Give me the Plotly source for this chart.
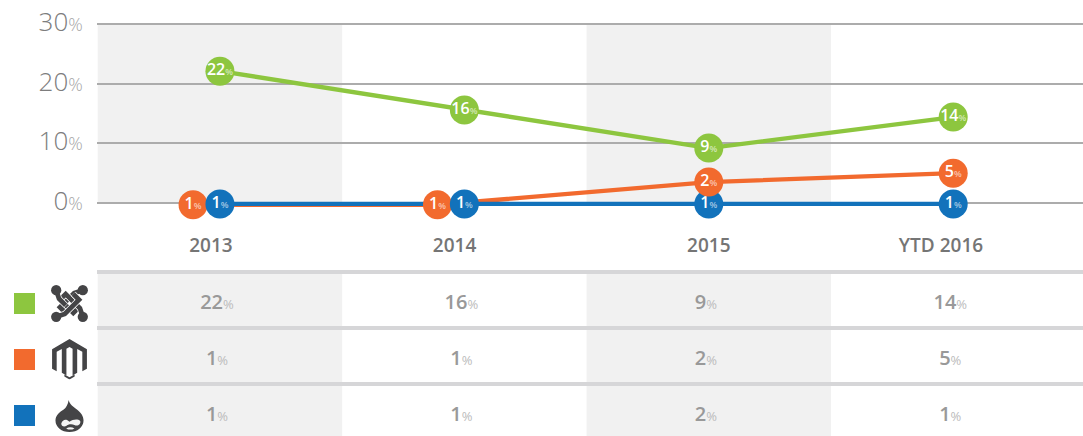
import base64
import plotly.graph_objects as go

# ---- data ----
categories = ["2013", "2014", "2015", "YTD 2016"]
joomla_line = [22.1, 15.6, 9.2, 14.4]
magento_line = [-0.3, -0.3, 3.5, 5.0]
drupal_line = [-0.15, -0.15, -0.15, -0.15]
joomla_labels = [22, 16, 9, 14]
magento_labels = [1, 1, 2, 5]
drupal_labels = [1, 1, 1, 1]
table_joomla = [22, 16, 9, 14]
table_magento = [1, 1, 2, 5]
table_drupal = [1, 1, 2, 1]
y_ticks = [0, 10, 20, 30]

# ---- style ----
GREEN, ORANGE, BLUE = "#8dc63f", "#f26a2e", "#1272bb"
BAND = "#f1f1f1"
GRID = "#acacac"
SEP = "#d6d6d8"
DODGE = 0.11
LABEL_SHIFT = [-0.037, -0.04, 0.0, -0.05]
CELL_SHIFT = -0.012
H = 436
FONT = "Open Sans"


def mark_text(v):
    return f"{v}<span style='font-size:9px;fill-opacity:0.6'>%</span>"


def cell_text(v):
    return f"{v}<span style='font-size:13px;fill:#bbbbbb;font-weight:400'>%</span>"


def svg_uri(body, view="0 0 40 40"):
    svg = f"<svg xmlns='http://www.w3.org/2000/svg' viewBox='{view}'>{body}</svg>"
    return "data:image/svg+xml;base64," + base64.b64encode(svg.encode()).decode()


DARK = "#444446"


def band_path(pts):
    d = "M" + " L".join(f"{x} {y}" for x, y in pts)
    return (f"<path d='{d}' fill='none' stroke='#ffffff' stroke-width='6.6'/>"
            f"<path d='{d}' fill='none' stroke='{DARK}' stroke-width='5'/>")


arm = [(6, 6), (9, 15), (24, 30), (30, 24)]
first_part = [(6, 6), (9, 15), (16, 22)]
joomla_body = ""
for _ in range(4):
    joomla_body += band_path(arm)
    arm = [(40 - y, x) for x, y in arm]
joomla_body += band_path(first_part)
joomla_svg = svg_uri(
    joomla_body
    + f"<g fill='{DARK}'><circle cx='6' cy='6' r='5.4'/><circle cx='34' cy='6' r='5.4'/>"
    "<circle cx='6' cy='34' r='5.4'/><circle cx='34' cy='34' r='5.4'/></g>"
)
magento_svg = svg_uri(
    f"<path fill='{DARK}' d='M20 0.5 L37 10.5 L37 29.5 L32.5 32 L32.5 13 L27.5 10.2 L27.5 33.5 L23 36 L23 10 L20 8.3 L17 10 "
    "L17 36 L12.5 33.5 L12.5 10.2 L7.5 13 L7.5 32 L3 29.5 L3 10.5 Z'/>"
    f"<path fill='{DARK}' d='M15 35 L20 37.8 L25 35 L25 37 L20 40 L15 37 Z'/>"
)
drupal_svg = svg_uri(
    f"<path fill='{DARK}' d='M19 0.5 C20 6 25 9 29 12 C34 16 37 20 37 25.5 C37 33.5 29.5 39.5 20 39.5 C10.5 39.5 3 33.5 3 25.5 "
    "C3 19 8 15 13 12 C16 10 18 6 19 0.5 Z'/>"
    "<path fill='#f4f4f4' d='M10 29 C12 24 16 23 20 27 C24 24 30 23 33 26 C34 30 30 33 26 31 C23 29.5 18 30 16 32 C13 33.5 10 32 10 29 Z'/>"
    "<path fill='#f4f4f4' d='M16 35 C19 33 23 33 26 35 C23 37 19 37 16 35 Z'/>"
)

idx = list(range(len(categories)))
m_x = [i - DODGE if magento_labels[i] == drupal_labels[i] else i for i in idx]

fig = go.Figure()


def add_line(x, y, color):
    fig.add_trace(go.Scatter(x=x, y=y, mode="lines", line=dict(color=color, width=4.4),
                             xaxis="x", yaxis="y", showlegend=False, hoverinfo="skip",
                             cliponaxis=False))


def add_marks(x, y, labels, color):
    fig.add_trace(go.Scatter(
        x=x, y=y, mode="markers+text",
        marker=dict(color=color, size=29, line=dict(width=0), opacity=1),
        text=[mark_text(v) for v in labels], textposition="middle center",
        textfont=dict(family=FONT, size=16, color="#ffffff", weight=600),
        xaxis="x", yaxis="y", showlegend=False, hoverinfo="skip", cliponaxis=False,
    ))


# all lines first, then the circles: orange under blue on the left, over it on the right
add_line(idx, joomla_line, GREEN)
add_line(m_x, magento_line, ORANGE)
add_line(idx, drupal_line, BLUE)
add_marks(idx, joomla_line, joomla_labels, GREEN)
add_marks(m_x[:2], magento_line[:2], magento_labels[:2], ORANGE)
add_marks(idx, drupal_line, drupal_labels, BLUE)
add_marks(m_x[2:], magento_line[2:], magento_labels[2:], ORANGE)

# table as text trace in its own subplot
for row, vals in enumerate([table_joomla, table_magento, table_drupal]):
    fig.add_trace(go.Scatter(
        x=[i + CELL_SHIFT for i in idx], y=[row + 0.02] * len(vals), mode="text",
        text=[cell_text(v) for v in vals], textposition="middle center",
        textfont=dict(family=FONT, size=20, color="#999999", weight=600),
        xaxis="x2", yaxis="y2", showlegend=False, hoverinfo="skip",
    ))

shapes = []
for c in (0, 2):
    shapes.append(dict(type="rect", xref="x", yref="y", x0=c - 0.5, x1=c + 0.5, y0=0, y1=30,
                       fillcolor=BAND, line_width=0, layer="below"))
    shapes.append(dict(type="rect", xref="x2", yref="y2", x0=c - 0.5, x1=c + 0.5, y0=-0.589, y1=2.375,
                       fillcolor=BAND, line_width=0, layer="below"))

images = []
icon_cy = [303.5, 359, 416]
icon_size = [38, 41, 33]
icon_cx = 69.5 - 97
for row, (col, svg) in enumerate(zip((GREEN, ORANGE, BLUE), (joomla_svg, magento_svg, drupal_svg))):
    cy = 303.5 + 56 * row
    s = icon_size[row]
    shapes.append(dict(type="rect", xref="paper", yref="paper",
                       x0=-83 / 986, x1=-62 / 986,
                       y0=(H - cy - 10.5) / H, y1=(H - cy + 10.5) / H,
                       fillcolor=col, line_width=0))
    images.append(dict(source=svg, xref="paper", yref="paper",
                       x=(icon_cx - s / 2) / 986, sizex=s / 986,
                       y=(H - icon_cy[row] + s / 2) / H, sizey=s / H,
                       xanchor="left", yanchor="top", sizing="contain", layer="above"))

x_range = [-0.503, 3.531]
y_px = 5.967
fig.update_layout(
    width=1083, height=H,
    margin=dict(l=97, r=0, t=0, b=0),
    paper_bgcolor="#ffffff", plot_bgcolor="rgba(0,0,0,0)",
    font=dict(family=FONT),
    shapes=shapes, images=images,
    xaxis=dict(
        domain=[0, 1], range=x_range, anchor="y",
        tickmode="array",
        tickvals=[i + s for i, s in zip(idx, LABEL_SHIFT)],
        ticktext=categories,
        tickfont=dict(family=FONT, size=19, color="#757575", weight=600),
        showgrid=False, zeroline=False, showline=False, ticks="",
    ),
    yaxis=dict(
        domain=[(H - 232) / H, 1], range=[(203 - 232) / y_px, 203 / y_px],
        tickmode="array", tickvals=y_ticks,
        ticktext=[f"{v}<span style='font-size:18px;fill:#a6a6a6'>%</span>" for v in y_ticks],
        tickfont=dict(family=FONT, size=26, color="#7d7d7d", weight=300),
        ticklabelshift=-2,
        showgrid=True, gridcolor=GRID, gridwidth=2, zeroline=False, showline=False,
        ticks="outside", ticklen=8, tickcolor="rgba(0,0,0,0)",
    ),
    xaxis2=dict(domain=[0, 1], range=x_range, anchor="y2", showticklabels=False,
                showgrid=False, zeroline=False, showline=False, ticks=""),
    yaxis2=dict(
        domain=[0, (H - 270) / H], range=[2.375, -0.589], anchor="x2",
        tickmode="array", tickvals=[-0.554, 0.446, 1.446], showticklabels=False,
        showgrid=True, gridcolor=SEP, gridwidth=4, zeroline=False, showline=False, ticks="",
    ),
)

fig.write_html("out.html", config=dict(displayModeBar=False),
               post_script="document.body.style.margin='0';document.body.style.overflow='hidden';")
